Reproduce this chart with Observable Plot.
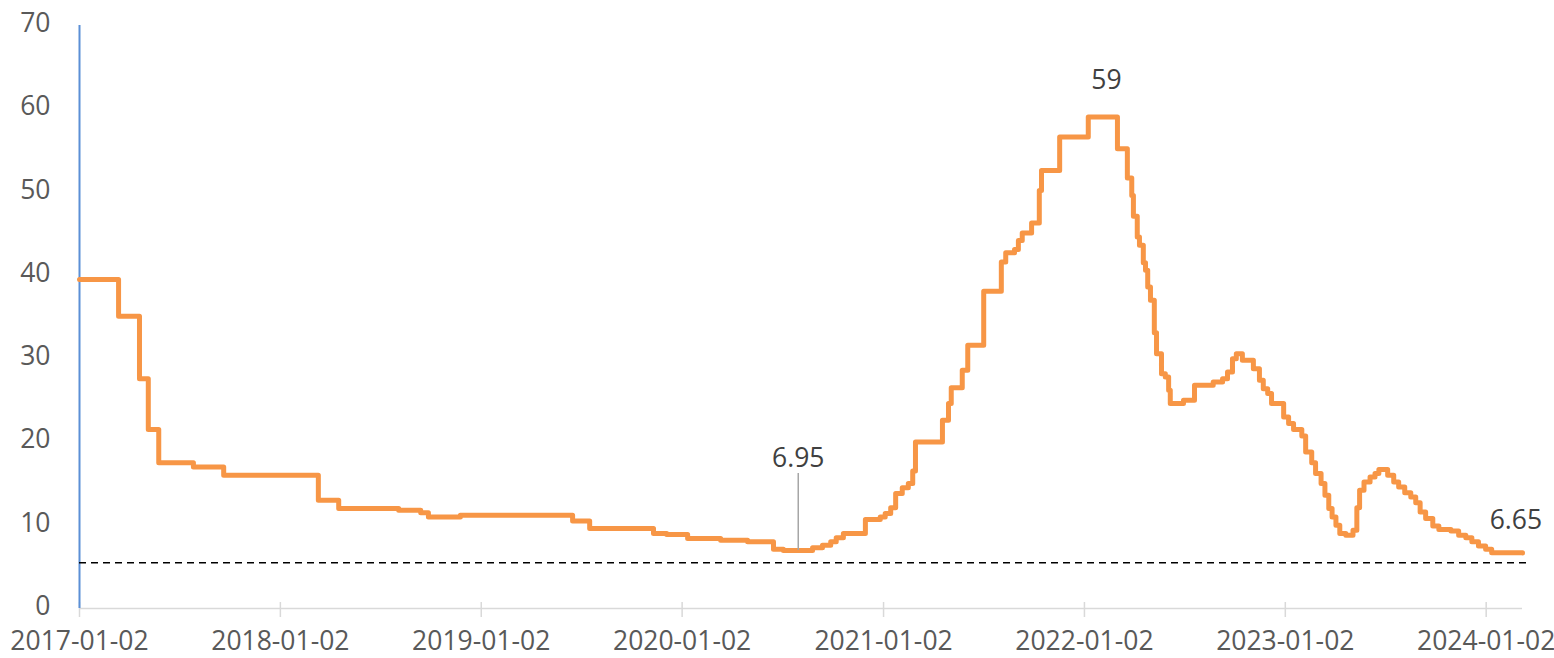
<!DOCTYPE html>
<html>
<head>
<meta charset="utf-8">
<script src="https://cdn.jsdelivr.net/npm/d3@7"></script>
<script src="https://cdn.jsdelivr.net/npm/@observablehq/plot@0.6"></script>
<style>
  html, body { margin: 0; padding: 0; background: #fff; }
  #chart { width: 1554px; height: 658px; }
</style>
</head>
<body>
<div id="chart"></div>
<script>
const dates = [
  "2017-01-02","2017-03-14","2017-04-21","2017-05-07","2017-05-26","2017-07-28","2017-09-21",
  "2018-03-12","2018-04-18","2018-08-05","2018-09-14","2018-09-28","2018-11-25",
  "2019-06-17","2019-07-18","2019-11-11","2019-12-05",
  "2020-01-12","2020-03-12","2020-04-30","2020-06-16","2020-07-04","2020-08-26","2020-09-13",
  "2020-09-28","2020-10-08","2020-10-21","2020-11-30","2020-12-27",
  "2021-01-05","2021-01-15","2021-01-24","2021-02-05","2021-02-16","2021-02-24","2021-03-01",
  "2021-04-19","2021-04-30","2021-05-05","2021-05-25","2021-06-04","2021-07-03","2021-08-04",
  "2021-08-12","2021-08-28","2021-09-04","2021-09-11","2021-09-28","2021-10-12","2021-10-16",
  "2021-11-18",
  "2022-01-09","2022-03-03","2022-03-21","2022-03-29","2022-04-01","2022-04-08","2022-04-12",
  "2022-04-19","2022-04-23","2022-04-27","2022-05-02","2022-05-09","2022-05-13","2022-05-22",
  "2022-05-29","2022-06-04","2022-06-07","2022-07-01","2022-07-21","2022-08-24","2022-09-10",
  "2022-09-19","2022-09-28","2022-10-05","2022-10-16","2022-11-05","2022-11-16","2022-11-23",
  "2022-12-01","2022-12-08","2022-12-30",
  "2023-01-08","2023-01-17","2023-02-01","2023-02-08","2023-02-19","2023-02-26","2023-03-08",
  "2023-03-15","2023-03-22","2023-03-28","2023-04-04","2023-04-11","2023-04-22","2023-05-05",
  "2023-05-12","2023-05-17","2023-05-25","2023-06-05","2023-06-14","2023-06-21","2023-07-07",
  "2023-07-18","2023-07-27","2023-08-07","2023-08-18","2023-08-27","2023-09-04","2023-09-14",
  "2023-09-27","2023-10-08","2023-10-30","2023-11-13","2023-11-26","2023-12-07","2023-12-19",
  "2024-01-01","2024-01-12","2024-03-08"
];
const values = [
  39.5,35.1,27.6,21.5,17.5,17.0,16.0,
  13.0,12.0,11.8,11.5,11.0,11.2,
  10.5,9.6,9.0,8.9,
  8.4,8.2,8.0,7.1,6.95,7.3,7.6,
  8.0,8.5,9.0,10.7,11.0,
  11.4,12.1,13.8,14.5,15.0,16.5,20.0,
  22.6,24.6,26.5,28.6,31.6,38.1,41.6,
  42.7,43.1,44.2,45.1,46.3,50.2,52.6,
  56.6,
  59.0,55.2,51.7,49.6,47.1,44.6,43.6,
  41.5,40.6,38.6,37.0,33.1,30.6,28.2,
  27.8,26.2,24.6,25.0,26.8,27.2,27.6,
  28.4,30.0,30.6,29.8,28.8,27.4,26.4,
  25.8,24.6,23.0,
  22.2,21.5,20.7,18.8,17.5,16.2,15.0,
  13.6,12.0,11.0,10.0,9.0,8.8,9.4,
  12.1,14.2,15.2,15.8,16.2,16.7,16.0,
  15.2,14.6,13.9,13.4,12.7,11.6,10.8,
  9.9,9.5,9.3,8.8,8.5,8.0,7.5,
  7.1,6.7,6.65
];
const tickDates = ["2017-01-02","2018-01-02","2019-01-02","2020-01-02","2021-01-02","2022-01-02","2023-01-02","2024-01-02"];
const yTicks = [0,10,20,30,40,50,60,70];
const thresholdValue = [5.5];
const thresholdSpan = ["2017-01-02","2024-03-17"];
const annLabels = ["59","6.95","6.65"];
const annDates = ["2022-02-11","2020-07-31","2024-02-25"];
const annValues = [59, 6.95, 6.65];
const leaderTop = [16.2];

const parse = d3.utcParse("%Y-%m-%d");
const data = dates.map((d, i) => ({date: parse(d), value: values[i]}));
const ann = annLabels.map((t, i) => ({label: t, date: parse(annDates[i]), value: annValues[i], top: i === 1 ? leaderTop[0] : annValues[i]}));
const ticks = tickDates.map(parse);
const fmt = d3.utcFormat("%Y-%m-%d");
const FONT = "Open Sans, Noto Sans, sans-serif";
const FS = 26.5;

const chart = Plot.plot({
  width: 1554,
  height: 658,
  marginLeft: 79,
  marginRight: 32,
  marginTop: 25,
  marginBottom: 50,
  style: {fontFamily: FONT, fontSize: FS + "px", color: "#595959", background: "#fff"},
  x: {type: "utc", domain: [parse("2017-01-02"), parse("2024-03-08")]},
  y: {type: "linear", domain: [0, 70]},
  marks: [
    Plot.ruleY([0], {stroke: "#d9d9d9", strokeWidth: 1.5}),
    Plot.ruleX(ticks, {x: d => d, y1: 0, y2: 0, stroke: "#d9d9d9", strokeWidth: 1.5, insetTop: -6, insetBottom: -9}),
    Plot.axisX({ticks: ticks, tickFormat: fmt, tickSize: 0, tickPadding: 23, fill: "#595959", fontSize: FS, label: null}),
    Plot.axisY({ticks: yTicks, tickSize: 0, tickPadding: 29, fill: "#595959", fontSize: FS, label: null, dy: -2}),
    Plot.ruleX([parse("2017-01-02")], {y1: 0, y2: 70, stroke: "#5b8fd6", strokeWidth: 2}),
    Plot.ruleY(thresholdValue, {x1: () => parse(thresholdSpan[0]), x2: () => parse(thresholdSpan[1]), stroke: "#000", strokeWidth: 1.6, strokeDasharray: "7,5"}),
    Plot.line(data, {x: "date", y: "value", curve: "step-after", stroke: "#f79646", strokeWidth: 5, strokeLinejoin: "round", strokeLinecap: "round"}),
    Plot.ruleX([ann[1]], {x: "date", y1: "value", y2: "top", stroke: "#a6a6a6", strokeWidth: 1.5}),
    Plot.text([ann[0]], {x: "date", y: "value", text: "label", dy: -37, fill: "#404040", fontSize: FS}),
    Plot.text([ann[1]], {x: "date", y: "value", text: "label", dy: -92, fill: "#404040", fontSize: FS}),
    Plot.text([ann[2]], {x: "date", y: "value", text: "label", dy: -33, fill: "#404040", fontSize: FS})
  ]
});
document.getElementById("chart").appendChild(chart);
</script>
</body>
</html>
